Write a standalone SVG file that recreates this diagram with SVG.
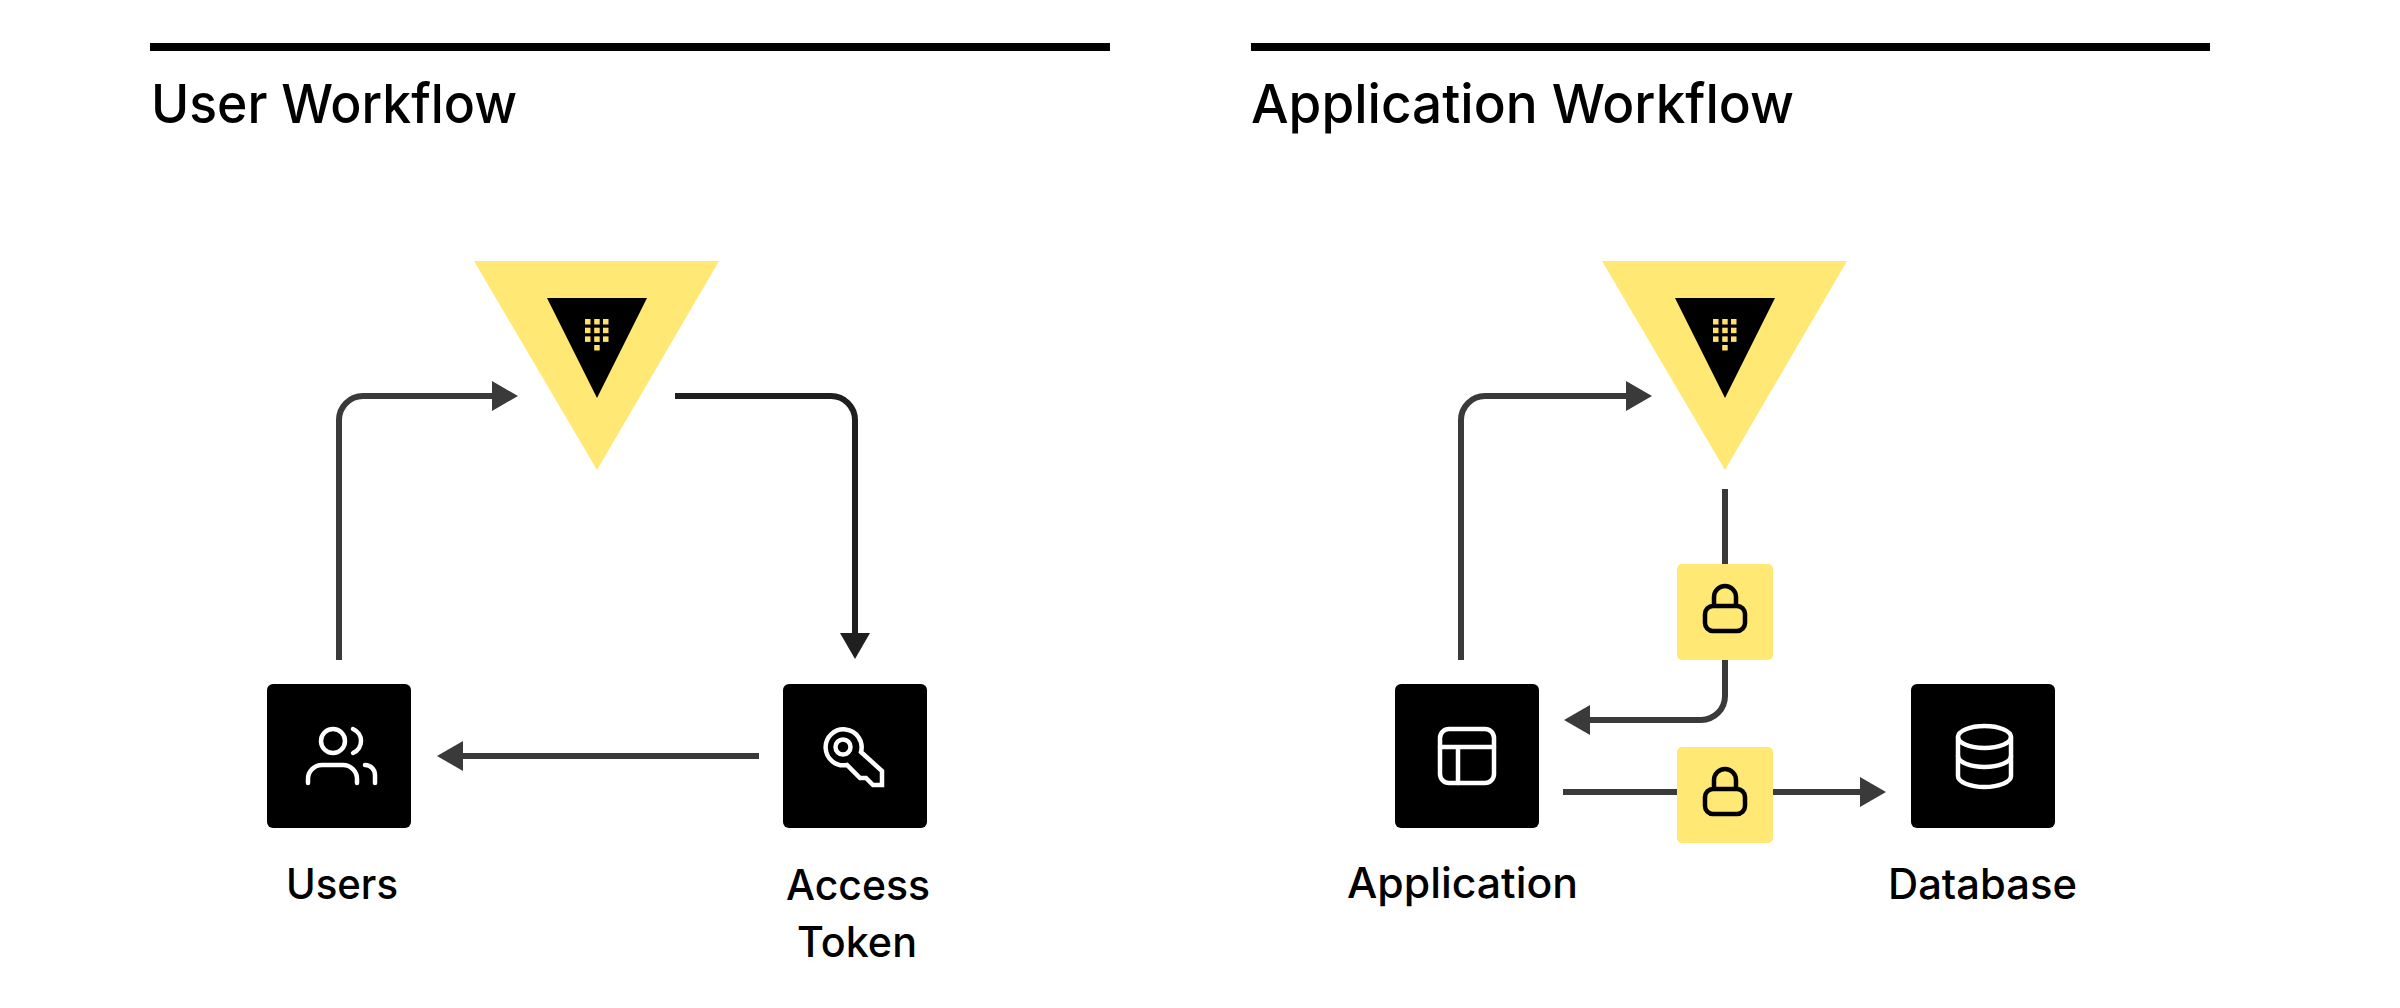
<svg xmlns="http://www.w3.org/2000/svg" width="2400" height="1008" viewBox="0 0 2400 1008">
<style>
.title{font-family:"Inter","Liberation Sans",sans-serif;font-size:54px;font-weight:500;fill:#000}
.label{font-family:"Inter","Liberation Sans",sans-serif;font-size:42px;font-weight:500;fill:#000}
.box{fill:#000}
.lockbox{fill:#ffe873}
.tri{fill:#ffe873}
.ic{fill:none;stroke:#fff;stroke-width:4.5;stroke-linecap:round;stroke-linejoin:round}
.lk{fill:none;stroke:#000;stroke-width:4.5;stroke-linejoin:round}
.c{fill:none;stroke:#3a3a3a;stroke-width:6}
.d{fill:none;stroke:#1f1f1f;stroke-width:6}
.h{fill:#3a3a3a}
.hd{fill:#1f1f1f}
.dot{fill:#ffe06a}
</style>
<defs>
<g id="vault">
<polygon class="tri" points="474,261 719,261 597,470"/>
<polygon fill="#000" points="547,298 647,298 597,398"/>
<g class="dot">
<rect x="585" y="319" width="5.5" height="5.5"/><rect x="594.2" y="319" width="5.5" height="5.5"/><rect x="603" y="319" width="5.5" height="5.5"/>
<rect x="585" y="327.700" width="5.5" height="5.5"/><rect x="594.2" y="327.700" width="5.5" height="5.5"/><rect x="603" y="327.700" width="5.5" height="5.5"/>
<rect x="585" y="336.400" width="5.5" height="5.5"/><rect x="594.2" y="336.400" width="5.5" height="5.5"/><rect x="603" y="336.400" width="5.5" height="5.5"/>
<rect x="594.2" y="345" width="5.5" height="5.5"/>
</g>
</g>
<g id="lock">
<rect class="lockbox" x="0" y="0" width="96" height="96" rx="5"/>
<path class="lk" d="M37 42V33a11 11 0 0 1 22 0V42"/>
<rect class="lk" x="28" y="42" width="40" height="25" rx="8"/>
</g>
</defs>
<g id="headers">
<rect x="150" y="43" width="960" height="8" fill="#000"/>
<rect x="1251" y="43" width="959" height="8" fill="#000"/>
<text class="title" x="151" y="123" textLength="366" lengthAdjust="spacingAndGlyphs">User Workflow</text>
<text class="title" x="1251" y="123" textLength="543" lengthAdjust="spacingAndGlyphs">Application Workflow</text>
</g>
<g id="connectors">
<path class="c" d="M339 660V420a24 24 0 0 1 24-24H494"/>
<polygon class="h" points="518,396 492,381 492,411"/>
<path class="d" d="M675 396H831a24 24 0 0 1 24 24V635"/>
<polygon class="hd" points="855,659 840,633 870,633"/>
<path class="c" d="M759 756H461"/>
<polygon class="h" points="437,756 463,741 463,771"/>
<path class="c" d="M1461 660V420a24 24 0 0 1 24-24H1628"/>
<polygon class="h" points="1652,396 1626,381 1626,411"/>
<path class="c" d="M1725 489V696a24 24 0 0 1-24 24H1588"/>
<polygon class="h" points="1564,720 1590,705 1590,735"/>
<path class="c" d="M1563 792H1862"/>
<polygon class="h" points="1886,792 1860,777 1860,807"/>
</g>
<g id="vault-user"><use href="#vault"/></g>
<g id="vault-app"><use href="#vault" x="1128"/></g>
<g id="users">
<rect class="box" x="267" y="684" width="144" height="144" rx="6"/>
<circle class="ic" cx="333" cy="741" r="12"/>
<path class="ic" d="M353 729a13 13 0 0 1 0 24"/>
<path class="ic" d="M308 783V779a14 14 0 0 1 14-14H343a14 14 0 0 1 14 14V783"/>
<path class="ic" d="M365 765a10 10 0 0 1 10 10V783"/>
<text class="label" x="286" y="899" textLength="112" lengthAdjust="spacingAndGlyphs">Users</text>
</g>
<g id="access-token">
<rect class="box" x="783" y="684" width="144" height="144" rx="6"/>
<path class="ic" style="stroke-linecap:butt;stroke-linejoin:miter" d="M861 752L882 771V785H873L866 778H860L847 765A18 18 0 1 1 861 752Z"/>
<circle class="ic" cx="843" cy="747" r="7.500"/>
<text class="label" x="786" y="900" textLength="144" lengthAdjust="spacingAndGlyphs">Access</text>
<text class="label" x="797" y="957" textLength="120" lengthAdjust="spacingAndGlyphs">Token</text>
</g>
<g id="application">
<rect class="box" x="1395" y="684" width="144" height="144" rx="6"/>
<rect class="ic" x="1440" y="729" width="54" height="54" rx="9"/>
<path class="ic" d="M1440 747H1494M1458 747V783"/>
<text class="label" x="1347" y="898" textLength="231" lengthAdjust="spacingAndGlyphs">Application</text>
</g>
<g id="database">
<rect class="box" x="1911" y="684" width="144" height="144" rx="6"/>
<ellipse class="ic" cx="1984.500" cy="737" rx="26.500" ry="11"/>
<path class="ic" d="M1958 737V776C1958 782 1970 787 1984.500 787S2011 782 2011 776V737"/>
<path class="ic" d="M1958 756C1958 762 1970 767 1984.500 767S2011 762 2011 756"/>
<text class="label" x="1888" y="899" textLength="189" lengthAdjust="spacingAndGlyphs">Database</text>
</g>
<g id="lock-1"><use href="#lock" x="1677" y="564"/></g>
<g id="lock-2"><use href="#lock" x="1677" y="747"/></g>
</svg>
